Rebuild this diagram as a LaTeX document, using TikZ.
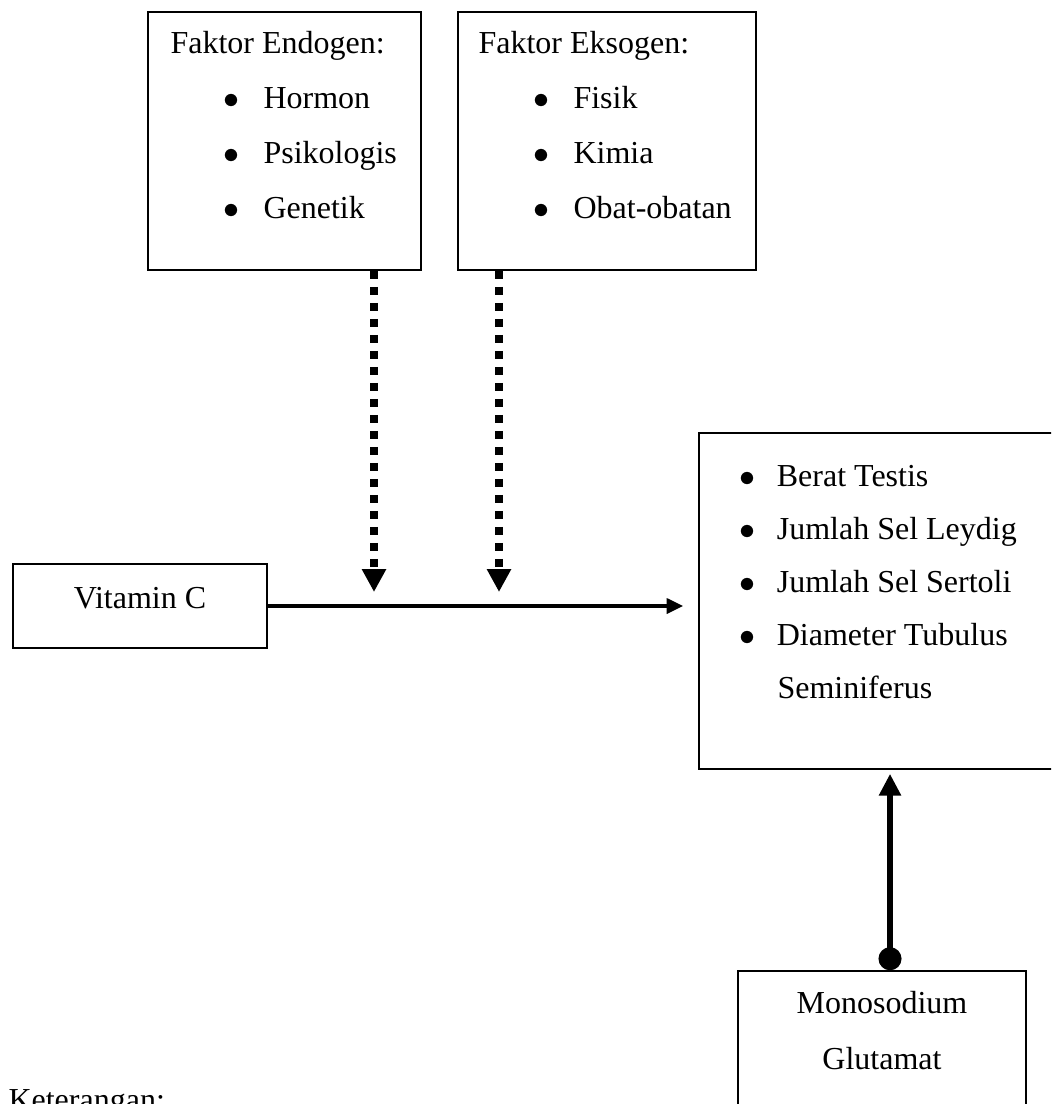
\documentclass[tikz,border=0pt]{standalone}
\usepackage{fontspec}
\setmainfont{Liberation Serif}
\usetikzlibrary{positioning,fit,arrows.meta}
\newcommand{\butir}[2][15pt]{\makebox[#1][l]{$\bullet$}#2}

\begin{document}
\begin{tikzpicture}[x=0.375pt, y=-0.375pt,
					kotak/.style={rectangle, draw=black, line width=0.6pt, inner sep=0pt},
					teks/.style={anchor=base west, inner sep=0pt, font=\fontsize{12}{14}\selectfont},
					tengah/.style={teks, anchor=base},
					titik/.style={line width=3pt, dash pattern=on 3pt off 3pt,
						-{Triangle[length=8.6pt, width=8.6pt]}},
					panah/.style={line width=1.3pt, -{Triangle[length=6.2pt, width=5.6pt]}},
					tebal/.style={line width=2.6pt, {Circle[length=8.6pt]}-{Triangle[length=8.2pt, width=7.9pt]}}
					]
					\useasboundingbox (0,0) rectangle (1051,1104);
					\clip (0,0) rectangle (1051,1104);
					% kotak
					\node[kotak, fit={(148,12) (421,270)}] (endo) {};
					\node[kotak, fit={(458,12) (756,270)}] (ekso) {};
					\node[kotak, fit={(13,564) (267,648)}] (vitc) {};
					\node[kotak, fit={(699,433) (1070,769)}] (hasil) {};
					\node[kotak, fit={(738,971) (1026,1130)}] (msg) {};
					% teks
					\node[teks] (en0) at (170,54) {Faktor Endogen:};
					\node[teks] (en1) at (223,109) {\butir{Hormon}};
					\node[teks] (en2) at (223,164) {\butir{Psikologis}};
					\node[teks] (en3) at (223,219) {\butir{Genetik}};
					\node[teks] (ek0) at (478,54) {Faktor Eksogen:};
					\node[teks] (ek1) at (533,109) {\butir{Fisik}};
					\node[teks] (ek2) at (533,164) {\butir{Kimia}};
					\node[teks] (ek3) at (533,219) {\butir{Obat-obatan}};
					\node[tengah] (vt) at (140,608) {Vitamin C};
					\node[teks] (h1) at (739,486) {\butir[14pt]{Berat Testis}};
					\node[teks] (h2) at (739,539) {\butir[14pt]{Jumlah Sel Leydig}};
					\node[teks] (h3) at (739,592) {\butir[14pt]{Jumlah Sel Sertoli}};
					\node[teks] (h4) at (739,645) {\butir[14pt]{Diameter Tubulus}};
					\node[teks] (h5) at (777,698) {Seminiferus};
					\node[tengah] (m1) at (882,1013) {Monosodium};
					\node[tengah] (m2) at (882,1069) {Glutamat};
					\node[teks] (ket) at (8,1110) {Keterangan:};
					% panah
					\coordinate (tEndo) at (374,592);
					\coordinate (tEkso) at (499,592);
					\coordinate (ujung) at (890,0);
					\draw[titik] (endo.south -| tEndo) -- (tEndo);
					\draw[titik] (ekso.south -| tEkso) -- (tEkso);
					\draw[panah, shorten >=5.6pt] (vitc.east) -- (vitc.east -| hasil.west);
					\draw[tebal, shorten >=1.5pt] (msg.north -| ujung) -- (hasil.south -| ujung);
				\end{tikzpicture}
\end{document}
